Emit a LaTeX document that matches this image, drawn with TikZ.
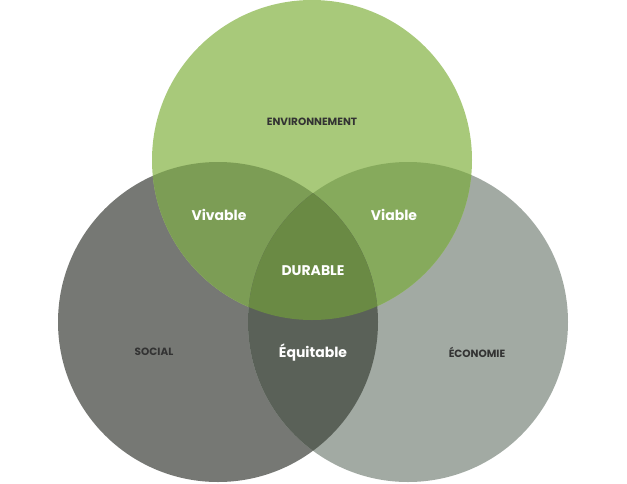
\documentclass[tikz,border=0pt]{standalone}
\usepackage{fontspec}
\setmainfont{Poppins}
\definecolor{cTop}{HTML}{A8C97A}
\definecolor{cLeft}{HTML}{767874}
\definecolor{cRight}{HTML}{A2AAA3}
\definecolor{cTL}{HTML}{7C9D55}
\definecolor{cTR}{HTML}{86AA5C}
\definecolor{cLR}{HTML}{5A6158}
\definecolor{cAll}{HTML}{6A8A44}
\definecolor{txt}{HTML}{333333}
\begin{document}
\begin{tikzpicture}[x=1pt,y=-1pt,
  outer/.style={font=\bfseries\fontsize{10.5}{12}\selectfont,text=txt},
  inner/.style={font=\bfseries\fontsize{14}{16}\selectfont,text=white}]
\useasboundingbox (0,0) rectangle (627,483);
\def\T{(312,160) circle (160)}
\def\L{(218,322) circle (160)}
\def\R{(408,322) circle (160)}
\fill[cLeft] \L;
\fill[cRight] \R;
\fill[cTop] \T;
\begin{scope}\clip \T; \fill[cTL] \L; \end{scope}
\begin{scope}\clip \T; \fill[cTR] \R; \end{scope}
\begin{scope}\clip \L; \fill[cLR] \R; \end{scope}
\begin{scope}\clip \T; \clip \L; \fill[cAll] \R; \end{scope}
\node[outer] (env) at (312,122) {ENVIRONNEMENT};
\node[outer] (soc) at (154,352) {SOCIAL};
\node[outer] (eco) at (477,352) {ÉCONOMIE};
\node[inner] (viv) at (219,215) {Vivable};
\node[inner] (via) at (394,215) {Viable};
\node[inner] (dur) at (313,271) {DURABLE};
\node[inner] (equ) at (313,353) {Équitable};
\end{tikzpicture}
\end{document}
